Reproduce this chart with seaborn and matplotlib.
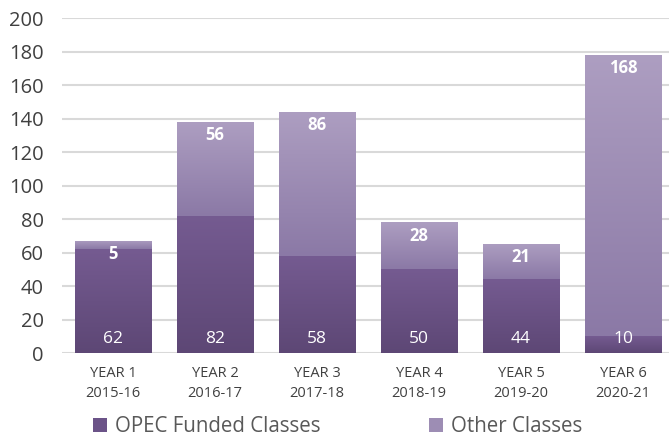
import numpy as np
import matplotlib
matplotlib.use("Agg")
import matplotlib.pyplot as plt
from matplotlib.colors import LinearSegmentedColormap
from matplotlib.patches import Patch
import seaborn as sns

categories = ["YEAR 1\n2015-16", "YEAR 2\n2016-17", "YEAR 3\n2017-18",
              "YEAR 4\n2018-19", "YEAR 5\n2019-20", "YEAR 6\n2020-21"]
opec_funded = [62, 82, 58, 50, 44, 10]
other_classes = [5, 56, 86, 28, 21, 168]
series_names = ["OPEC Funded Classes", "Other Classes"]
y_ticks = [0, 20, 40, 60, 80, 100, 120, 140, 160, 180, 200]

totals = [a + b for a, b in zip(opec_funded, other_classes)]

OPEC_TOP, OPEC_BOT, OPEC_MID = "#755b91", "#5d4775", "#6b5388"
OTH_TOP, OTH_BOT, OTH_MID = "#ad9ec1", "#8b79a6", "#9d8db4"

sns.set_theme(style="white")
plt.rcParams["font.family"] = ["Open Sans", "DejaVu Sans"]

fig = plt.figure(figsize=(6.69, 4.36), dpi=100)
ax = fig.add_axes([0.0927, 0.190, 0.9073, 0.7687])

sns.barplot(x=categories, y=totals, color=OTH_MID, saturation=1, width=0.745, ax=ax, zorder=2)
sns.barplot(x=categories, y=opec_funded, color=OPEC_MID, saturation=1, width=0.745, ax=ax, zorder=3)

n = len(categories)
tot_patches = ax.patches[:n]
opec_patches = ax.patches[n:2 * n]


def grad_fill(patch, c_top, c_bot, y_low, y_high, z):
    x0, w = patch.get_x(), patch.get_width()
    cmap = LinearSegmentedColormap.from_list("g", [c_bot, c_top])
    grad = np.linspace(0, 1, 256).reshape(-1, 1)
    im = ax.imshow(grad, extent=[x0, x0 + w, y_low, y_high], origin="lower",
                   aspect="auto", cmap=cmap, zorder=z, interpolation="bilinear")
    im.set_clip_path(patch)
    patch.set_facecolor("none")
    patch.set_edgecolor("none")


for tp, op in zip(tot_patches, opec_patches):
    grad_fill(tp, OTH_TOP, OTH_BOT, op.get_height(), tp.get_height(), 2)
    grad_fill(op, OPEC_TOP, OPEC_BOT, 0, op.get_height(), 3)

ax.set_xlim(-0.5, n - 0.55)
ax.set_ylim(0, 200)
ax.set_yticks(y_ticks)
ax.yaxis.grid(True, color="#d9d9d9", linewidth=1.5, zorder=0)
ax.set_axisbelow(True)
for s in ax.spines.values():
    s.set_visible(False)
ax.tick_params(axis="y", length=0, pad=13, labelsize=14.5, labelcolor="#404040")
ax.tick_params(axis="x", length=0, pad=9, labelsize=10.5, labelcolor="#404040")
for lbl in ax.get_xticklabels():
    lbl.set_linespacing(1.45)
ax.set_xlabel("")
ax.set_ylabel("")

for tp, op, ov, tv in zip(tot_patches, opec_patches, opec_funded, other_classes):
    xc = op.get_x() + op.get_width() / 2
    ax.annotate(str(ov), (xc, 0), xytext=(0, 10), textcoords="offset points",
                ha="center", va="center", color="white", fontsize=12.5, zorder=5)
    ax.annotate(str(tv), (xc, tp.get_height()), xytext=(0, -9.5), textcoords="offset points",
                ha="center", va="center", color="white", fontsize=12,
                fontweight="bold", zorder=5)

handles = [Patch(facecolor=OPEC_MID, edgecolor="none"), Patch(facecolor=OTH_MID, edgecolor="none")]
fig.legend(handles, series_names, loc="center", bbox_to_anchor=(0.505, 0.022), ncol=2,
           frameon=False, fontsize=14.8, labelcolor="#595959", columnspacing=5.3,
           handlelength=0.65, handleheight=0.65, handletextpad=0.4)

fig.savefig("out.png", dpi=100)
